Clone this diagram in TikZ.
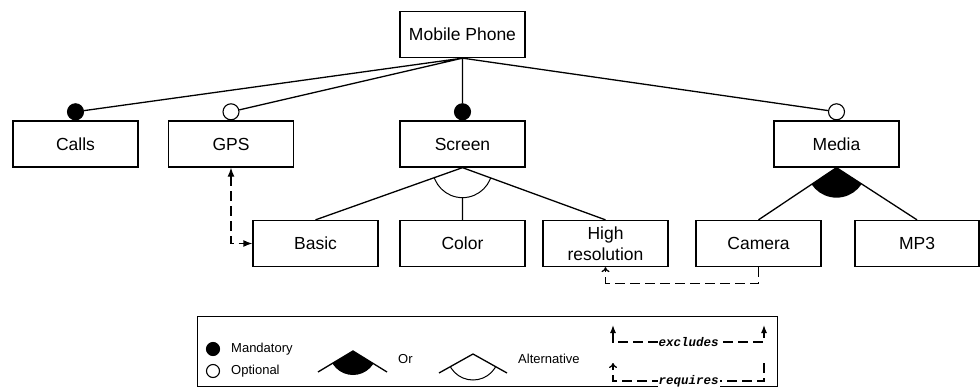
\documentclass[tikz,border=0pt]{standalone}
\usepackage{fontspec}
\setmainfont{Liberation Sans}
\newfontfamily\relfont{Liberation Mono}
\usetikzlibrary{arrows.meta,calc}

\begin{document}
\begin{tikzpicture}[x=1pt,y=-1pt,
		feature/.style={draw,line width=1.3pt,minimum width=125pt,minimum height=46pt,inner sep=1pt,align=center,font=\fontsize{17.5}{21}\selectfont},
		mand/.style={draw,line width=1.1pt,circle,fill=black,minimum size=16pt,inner sep=0pt,anchor=south},
		opt/.style={draw,line width=1.1pt,circle,fill=white,minimum size=16pt,inner sep=0pt,anchor=south},
		edge/.style={line width=1.3pt},
		reqline/.style={line width=1.3pt,dash pattern=on 10pt off 5pt},
		legtext/.style={font=\fontsize{13}{15}\selectfont,anchor=west,inner sep=0pt},
		reltext/.style={font=\relfont\bfseries\itshape\fontsize{12.5}{14}\selectfont,fill=white,inner sep=1pt}]
		\useasboundingbox (0,0) rectangle (980,388);

		\path (462.5,34.5) node[feature] (phone) {Mobile Phone}
		(75.5,144) node[feature] (calls) {Calls}
		(231,144) node[feature] (gps) {GPS}
		(462.5,144) node[feature] (screen) {Screen}
		(836.5,144) node[feature] (media) {Media}
		(315.5,243.5) node[feature] (basic) {Basic}
		(462.5,243.5) node[feature] (color) {Color}
		(605.5,243.5) node[feature] (hires) {High\\resolution}
		(758.5,243.5) node[feature] (camera) {Camera}
		(917,243.5) node[feature,minimum width=124pt] (mp3) {MP3};

		\node[mand] (callsdot) at (calls.north) {};
		\node[opt] (gpsdot) at (gps.north) {};
		\node[mand] (screendot) at (screen.north) {};
		\node[opt] (mediadot) at (media.north) {};

		\draw[edge] (phone.south) -- (callsdot)
		(phone.south) -- (gpsdot)
		(phone.south) -- (screendot)
		(phone.south) -- (mediadot);

		% alternative group
		\draw[edge] (basic.north) -- (screen.south) -- (hires.north)
		($(screen.south)+(0,30)$) -- (color.north);
		\begin{scope}
			\clip (screen.south) -- ($(screen.south)!3!(basic.north)$) -- ($(screen.south)!3!(hires.north)$) -- cycle;
			\draw[line width=1pt] (screen.south) circle[radius=30pt];
		\end{scope}

		% or group
		\draw[edge] (camera.north) -- (media.south) -- (mp3.north);
		\begin{scope}
			\clip (media.south) -- ($(media.south)!3!(camera.north)$) -- ($(media.south)!3!(mp3.north)$) -- cycle;
			\fill (media.south) circle[radius=30pt];
		\end{scope}

		% constraints
		\draw[reqline,{Latex[length=9pt,width=7pt]}-{Latex[length=9pt,width=7pt]}] (gps.south) |- (basic.west);
		\draw[reqline,-{To[length=5pt,width=8pt]}] (camera.south) -- ++(0,16) -| (hires.south);

		% legend
		\draw[line width=1pt] (197,316) rectangle (777,386);
		\node[mand,anchor=center,minimum size=13pt] (legmand) at (213,349) {};
		\node[opt,anchor=center,minimum size=13pt] (legopt) at (213,371) {};
		\node[legtext] at (231,349) {Mandatory};
		\node[legtext] at (231,371) {Optional};

		\coordinate (orl) at (318,372);
		\coordinate (ortop) at (353,351);
		\coordinate (orr) at (387,372);
		\draw[edge] (orl) -- (ortop) -- (orr);
		\begin{scope}
			\clip (ortop) -- ($(ortop)!2!(orl)$) -- ($(ortop)!2!(orr)$) -- cycle;
			\fill (ortop) circle[radius=24pt];
		\end{scope}
		\node[legtext] at (398,359) {Or};

		\coordinate (altl) at (439,373);
		\coordinate (alttop) at (473,354);
		\coordinate (altr) at (507,373);
		\draw[edge] (altl) -- (alttop) -- (altr);
		\begin{scope}
			\clip (alttop) -- ($(alttop)!2!(altl)$) -- ($(alttop)!2!(altr)$) -- cycle;
			\draw[line width=1pt] (alttop) circle[radius=26pt];
		\end{scope}
		\node[legtext] at (518,359) {Alternative};

		\coordinate (exl) at (613,342);
		\coordinate (exr) at (764,342);
		\draw[reqline,{Latex[length=8pt,width=6pt]}-{Latex[length=8pt,width=6pt]}] ($(exl)+(0,-17)$) -- (exl) -- node[reltext] {excludes} (exr) -- ($(exr)+(0,-17)$);

		\coordinate (rqr) at (764,381);
		\coordinate (rql) at (613,381);
		\draw[reqline,-{To[length=5pt,width=8pt]}] ($(rqr)+(0,-18)$) -- (rqr) -- node[reltext] {requires} (rql) -- ($(rql)+(0,-18)$);
	\end{tikzpicture}
\end{document}
